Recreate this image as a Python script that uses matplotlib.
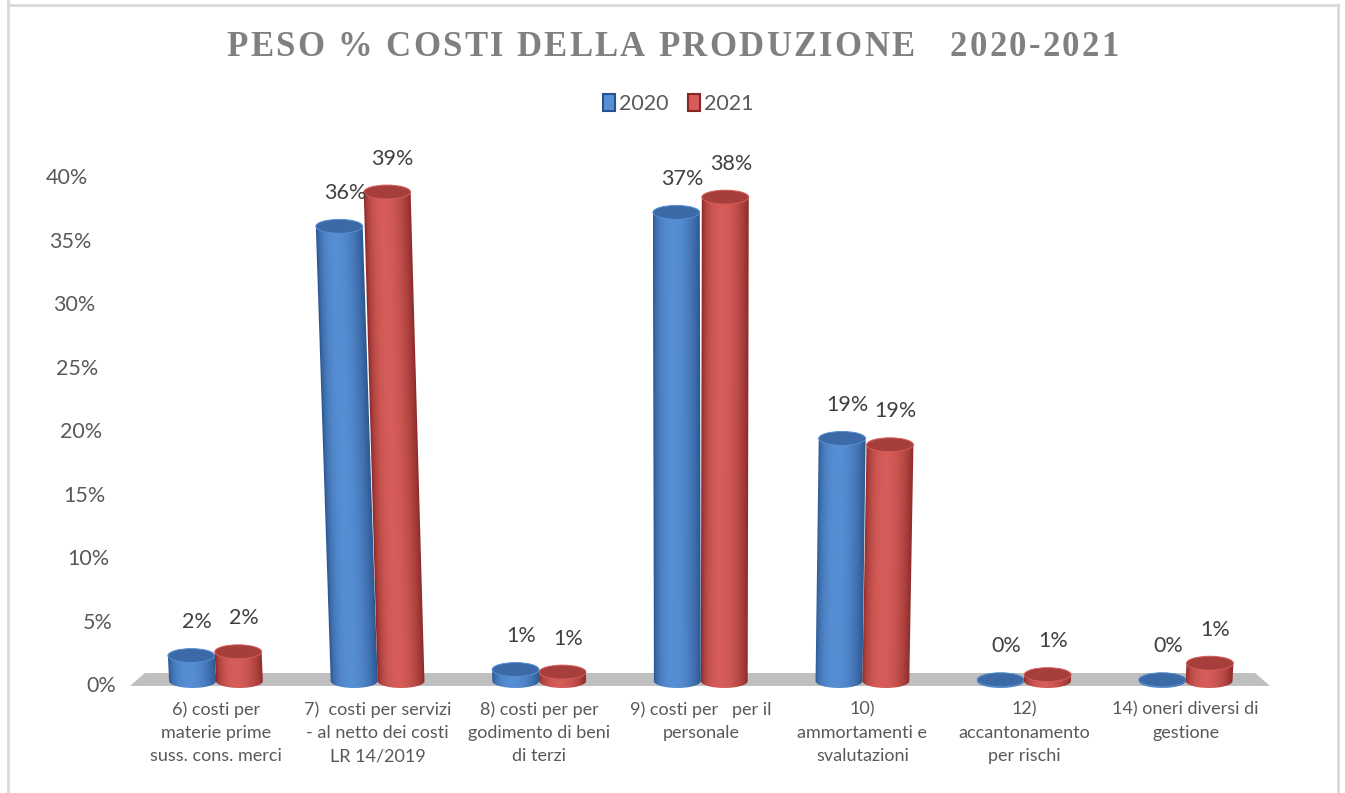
import numpy as np
import matplotlib
matplotlib.use("Agg")
import matplotlib.pyplot as plt
import matplotlib.transforms as mtransforms
from matplotlib.colors import to_rgb
from matplotlib.lines import Line2D
from matplotlib.patches import Ellipse, Polygon, Rectangle

CATEGORIES = [
    "6) costi per\nmaterie prime\nsuss. cons. merci",
    "7)  costi per servizi\n- al netto dei costi\nLR 14/2019",
    "8) costi per per\ngodimento di beni\ndi terzi",
    "9) costi per   per il\npersonale",
    "10)\nammortamenti e\nsvalutazioni",
    "12)\naccantonamento\nper rischi",
    "14) oneri diversi di\ngestione",
]
SERIES = ["2020", "2021"]
PESO_2020 = [2.0, 35.8, 0.9, 36.9, 19.1, 0.1, 0.1]
PESO_2021 = [2.3, 38.5, 0.7, 38.1, 18.6, 0.5, 1.4]
Y_TICKS = [0, 5, 10, 15, 20, 25, 30, 35, 40]
TITLE = "PESO % COSTI DELLA PRODUZIONE   2020-2021"

# rim shade, highlight, top cap
PALETTE = {
    "2020": ("#29528c", "#578fd4", "#3b6aa6"),
    "2021": ("#872725", "#d65d59", "#a63e3b"),
}

W, H, DPI = 1345, 793, 100
BAR_W = 0.29      # cylinder diameter in category units
CAP_H = 1.1       # cap ellipse height in % units
LEAN = 0.0012     # perspective lean of the cylinders away from the centre
X_VANISH = 3.0
FONT = "Lato"


def side_shade(rim, light, n=96):
    # light falloff across a cylinder, brightest a bit left of centre
    t = np.linspace(0, 1, n)
    p = np.sin(np.pi * t ** 0.8) ** 0.7
    a, b = np.array(to_rgb(rim)), np.array(to_rgb(light))
    return (a + (b - a) * p[:, None])[None, :, :]


def draw_cylinder(ax, xc, value, colors, z):
    rim, light, cap = colors
    skew = LEAN * (xc - X_VANISH)
    xt = xc + skew * value
    x0, x1 = xc - BAR_W / 2, xc + BAR_W / 2
    theta = np.linspace(np.pi, 2 * np.pi, 60)
    arc = np.column_stack([xc + BAR_W / 2 * np.cos(theta), CAP_H / 2 * np.sin(theta)])
    verts = np.vstack([[xt - BAR_W / 2, value], arc, [xt + BAR_W / 2, value]])
    body = Polygon(verts, closed=True, facecolor="none", edgecolor="none", zorder=z)
    ax.add_patch(body)
    img = ax.imshow(side_shade(rim, light), extent=[x0, x1, -CAP_H / 2, value],
                    aspect="auto", interpolation="bilinear", origin="lower", zorder=z)
    img.set_transform(mtransforms.Affine2D.from_values(1, 0, skew, 1, 0, 0) + ax.transData)
    img.set_clip_path(body)
    ax.add_patch(Ellipse((xt, value), BAR_W, CAP_H, facecolor=cap,
                         edgecolor=light, linewidth=0.7, zorder=z + 0.1))
    return xt


def spaced_title(fig, text, y_px, size, gap):
    renderer = fig.canvas.get_renderer()
    parts = []
    for ch in text:
        if ch == " ":
            parts.append((None, size * 0.25 * DPI / 72))
            continue
        t = fig.text(0, 1 - y_px / H, ch, fontsize=size, family="Liberation Serif",
                     weight="bold", color="#808080", ha="left", va="center")
        parts.append((t, t.get_window_extent(renderer).width))
    total = sum(w for _, w in parts) + gap * (len(parts) - 1)
    x = (W - total) / 2
    for t, w in parts:
        if t is not None:
            t.set_x(x / W)
        x += w + gap


fig = plt.figure(figsize=(W / DPI, H / DPI), dpi=DPI)
fig.patch.set_facecolor("white")

# chart frame
for xs, ys in [((8, 8), (0, 5)), ((8, 1338), (5, 5)), ((1338, 1338), (5, 793))]:
    fig.add_artist(Line2D([x / W for x in xs], [1 - y / H for y in ys],
                          color="#d9d9d9", linewidth=2))
fig.add_artist(Line2D([8 / W, 8 / W], [1 - 5 / H, 0], color="#d9d9d9", linewidth=2))

ax = fig.add_axes([130 / W, (H - 700) / H, 1140 / W, 552 / H])
ax.set_facecolor("none")

x = np.arange(len(CATEGORIES))

# floor
ax.add_patch(Polygon([(-0.532, -0.39), (6.522, -0.39), (6.43, 0.63), (-0.44, 0.63)],
                     closed=True, facecolor="#bfbfbf", edgecolor="none", zorder=1))

for k, (name, vals) in enumerate(zip(SERIES, [PESO_2020, PESO_2021])):
    offset = (k - 0.5) * BAR_W
    for xi, v in zip(x, vals):
        xt = draw_cylinder(ax, xi + offset, v, PALETTE[name], z=3 + k)
        ax.annotate(f"{int(v + 0.5)}%", (xt, v), xytext=(4, 24),
                    textcoords="offset points", ha="center", va="center",
                    fontsize=15.5, family=FONT, color="#404040", zorder=10)

ax.set_xlim(-0.532, 6.522)
ax.set_ylim(-1.496, 41.97)
for s in ax.spines.values():
    s.set_visible(False)

ax.set_xticks(x, CATEGORIES)
ax.tick_params(axis="x", length=0, pad=1)
for lab in ax.get_xticklabels():
    lab.set_fontsize(13)
    lab.set_family(FONT)
    lab.set_color("#595959")
    lab.set_linespacing(1.55)

ax.set_yticks(Y_TICKS)
ax.tick_params(axis="y", length=0, labelleft=False)
for v in Y_TICKS:
    tf = ax.get_yaxis_transform() + mtransforms.ScaledTranslation(
        (-14 - 0.7 * v) / DPI, -5 / DPI, fig.dpi_scale_trans)
    ax.text(0, v, f"{v}%", transform=tf, ha="right", va="center",
            fontsize=15.5, family=FONT, color="#595959")

handles = [Rectangle((0, 0), 1, 1, facecolor=PALETTE[s][1], edgecolor=PALETTE[s][0], linewidth=1.5)
           for s in SERIES]
fig.legend(handles, SERIES, loc="center", bbox_to_anchor=(678 / W, 1 - 104 / H), ncol=2,
           frameon=False, handlelength=0.55, handleheight=0.8, handletextpad=0.2,
           columnspacing=0.9, prop={"family": FONT, "size": 15.5}, labelcolor="#595959")

spaced_title(fig, TITLE, 47, 25, 2.3)

fig.savefig("out.png", dpi=DPI)
